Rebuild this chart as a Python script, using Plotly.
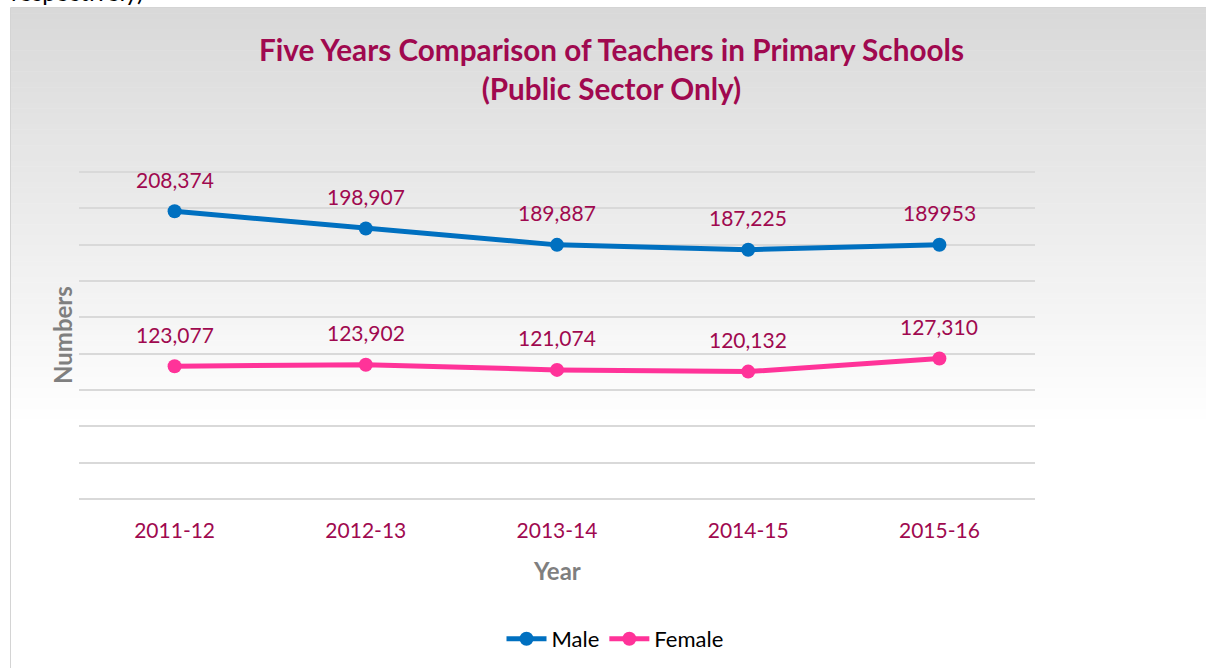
import plotly.graph_objects as go

years = ["2011-12", "2012-13", "2013-14", "2014-15", "2015-16"]
male = [208374, 198907, 189887, 187225, 189953]
female = [123077, 123902, 121074, 120132, 127310]
male_labels = ["208,374", "198,907", "189,887", "187,225", "189953"]
female_labels = ["123,077", "123,902", "121,074", "120,132", "127,310"]

W, H = 1206, 668
def px(x):
    return x / W
def py(y):
    return 1 - y / H

FONT = "Lato, 'Open Sans', sans-serif"
MAROON = "#A0094F"
MALE_C = "#0070C0"
FEMALE_C = "#FF3399"

fig = go.Figure()
fig.add_trace(go.Scatter(x=years, y=male, name="Male", mode="lines+markers",
                         line=dict(color=MALE_C, width=5),
                         marker=dict(color=MALE_C, size=14)))
fig.add_trace(go.Scatter(x=years, y=female, name="Female", mode="lines+markers",
                         line=dict(color=FEMALE_C, width=5),
                         marker=dict(color=FEMALE_C, size=14)))

shapes = []
# gradient background strips
y0, y1 = 8, 430
N = 80
for i in range(N):
    a = y0 + (y1 - y0) * i / N
    b = y0 + (y1 - y0) * (i + 1) / N + 0.5
    t = i / (N - 1)
    c = int(round(217 + (255 - 217) * t))
    shapes.append(dict(type="rect", xref="paper", yref="paper", layer="below",
                       x0=px(10), x1=1.0, y0=py(b), y1=py(a),
                       fillcolor=f"rgb({c},{c},{c})", line=dict(width=0)))
# left and top border lines of the chart box
shapes.append(dict(type="line", xref="paper", yref="paper", layer="below",
                   x0=px(10.5), x1=px(10.5), y0=0, y1=py(7.5),
                   line=dict(color="#d4d4d4", width=1)))
shapes.append(dict(type="line", xref="paper", yref="paper", layer="below",
                   x0=px(10.5), x1=1.0, y0=py(7.5), y1=py(7.5),
                   line=dict(color="#d4d4d4", width=1)))

annotations = []
for i, (v, t) in enumerate(zip(male, male_labels)):
    annotations.append(dict(x=years[i], y=v, xref="x", yref="y", text=t, showarrow=False,
                            yshift=32, font=dict(family=FONT, size=21, color=MAROON)))
for i, (v, t) in enumerate(zip(female, female_labels)):
    annotations.append(dict(x=years[i], y=v, xref="x", yref="y", text=t, showarrow=False,
                            yshift=32, font=dict(family=FONT, size=21, color=MAROON)))

annotations.append(dict(x=px(611), y=py(68.5), xref="paper", yref="paper", showarrow=False,
                        text="<b>Five Years Comparison of Teachers in Primary Schools</b><br><b>(Public Sector Only)</b>",
                        font=dict(family=FONT, size=29.7, color=MAROON), align="center",
                        xanchor="center", yanchor="middle"))
annotations.append(dict(x=px(62), y=py(335), xref="paper", yref="paper", showarrow=False,
                        text="<b>Numbers</b>", textangle=-90,
                        font=dict(family=FONT, size=24, color="#7F7F7F"),
                        xanchor="center", yanchor="middle"))
annotations.append(dict(x=px(557), y=py(570), xref="paper", yref="paper", showarrow=False,
                        text="<b>Year</b>",
                        font=dict(family=FONT, size=24, color="#7F7F7F"),
                        xanchor="center", yanchor="middle"))
annotations.append(dict(x=px(9), y=py(-8), xref="paper", yref="paper", showarrow=False,
                        text="respectively)",
                        font=dict(family=FONT, size=24, color="#000000"),
                        xanchor="left", yanchor="middle"))

fig.update_layout(
    width=W, height=H,
    margin=dict(l=0, r=0, t=0, b=0),
    paper_bgcolor="white",
    plot_bgcolor="rgba(0,0,0,0)",
    shapes=shapes,
    annotations=annotations,
    showlegend=True,
    legend=dict(orientation="h", x=px(615), y=py(639), xanchor="center", yanchor="middle",
                font=dict(family=FONT, size=22, color="#000000"),
                bgcolor="rgba(0,0,0,0)", itemwidth=40),
    xaxis=dict(domain=[px(79), px(1035)], type="category", range=[-0.5, 4.5],
               showgrid=False, zeroline=False, showline=False, ticks="",
               tickfont=dict(family=FONT, size=21, color=MAROON), ticklabelstandoff=13),
    yaxis=dict(domain=[py(502.64), py(168.36)], range=[48000, 232000], tick0=50000, dtick=20000,
               showgrid=True, gridcolor="#d9d9d9", gridwidth=2, zeroline=False,
               showticklabels=False, showline=False, ticks=""),
)

fig.write_html("out.html", config={"displayModeBar": False},
               post_script="document.body.style.margin='0';document.body.style.overflow='hidden';"
                           "document.documentElement.style.overflow='hidden';")
